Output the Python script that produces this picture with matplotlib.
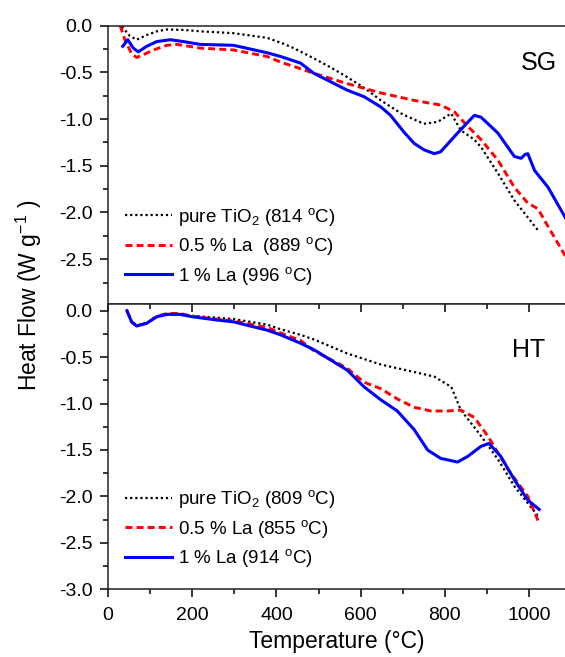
import matplotlib
matplotlib.use("Agg")
import matplotlib.pyplot as plt
from matplotlib.ticker import MultipleLocator, FuncFormatter

plt.rcParams['font.family'] = ['Liberation Sans', 'DejaVu Sans']
plt.rcParams['mathtext.fontset'] = 'custom'
plt.rcParams['mathtext.rm'] = 'Liberation Sans'
plt.rcParams['mathtext.it'] = 'Liberation Sans:italic'

# ---------------- SG panel data ----------------
sg_pure_T = [33, 52, 68, 92, 116, 140, 179, 219, 298, 378, 415, 441, 489, 530, 568, 610, 648, 700, 750, 783, 815, 838, 870, 886, 926, 965, 1021]
sg_pure_y = [-0.01, -0.11, -0.15, -0.10, -0.06, -0.04, -0.045, -0.06, -0.08, -0.13, -0.19, -0.24, -0.35, -0.45, -0.55, -0.67, -0.80, -0.95, -1.05, -1.03, -0.94, -1.12, -1.22, -1.30, -1.58, -1.87, -2.19]

sg_05_T = [29, 40, 56, 68, 84, 108, 140, 164, 219, 298, 378, 410, 457, 489, 568, 648, 727, 790, 822, 855, 886, 926, 965, 997, 1021, 1045, 1088]
sg_05_y = [0.0, -0.15, -0.30, -0.34, -0.31, -0.26, -0.21, -0.20, -0.24, -0.26, -0.33, -0.39, -0.46, -0.51, -0.62, -0.72, -0.80, -0.85, -0.92, -1.08, -1.22, -1.44, -1.73, -1.90, -1.96, -2.15, -2.48]

sg_1_T = [35, 47, 60, 72, 92, 116, 148, 179, 219, 298, 378, 410, 457, 489, 568, 608, 648, 671, 703, 727, 751, 775, 790, 830, 870, 886, 926, 965, 981, 990, 997, 1013, 1045, 1088]
sg_1_y = [-0.22, -0.15, -0.24, -0.28, -0.22, -0.17, -0.15, -0.17, -0.20, -0.21, -0.29, -0.33, -0.40, -0.51, -0.69, -0.76, -0.87, -0.96, -1.14, -1.26, -1.33, -1.37, -1.35, -1.15, -0.96, -0.98, -1.15, -1.40, -1.42, -1.38, -1.37, -1.55, -1.73, -2.07]

# ---------------- HT panel data ----------------
ht_pure_T = [45, 56, 68, 92, 116, 140, 171, 200, 258, 298, 378, 410, 457, 489, 568, 648, 727, 775, 815, 838, 886, 926, 965, 1021]
ht_pure_y = [0.0, -0.12, -0.16, -0.13, -0.06, -0.035, -0.035, -0.055, -0.075, -0.09, -0.15, -0.20, -0.26, -0.31, -0.46, -0.58, -0.66, -0.71, -0.82, -1.07, -1.35, -1.60, -1.89, -2.21]

ht_05_T = [45, 56, 68, 92, 116, 140, 171, 200, 258, 298, 378, 410, 457, 489, 568, 608, 648, 687, 727, 767, 806, 838, 870, 902, 950, 997, 1024]
ht_05_y = [0.0, -0.12, -0.165, -0.135, -0.06, -0.03, -0.03, -0.06, -0.09, -0.11, -0.18, -0.24, -0.32, -0.43, -0.62, -0.77, -0.84, -0.95, -1.04, -1.08, -1.08, -1.07, -1.15, -1.35, -1.71, -2.00, -2.29]

ht_1_T = [45, 56, 68, 92, 116, 140, 171, 200, 258, 298, 378, 410, 457, 489, 568, 608, 648, 687, 727, 759, 790, 830, 854, 886, 905, 933, 965, 997, 1024]
ht_1_y = [0.0, -0.12, -0.165, -0.135, -0.065, -0.04, -0.04, -0.065, -0.10, -0.12, -0.21, -0.26, -0.35, -0.42, -0.64, -0.82, -0.96, -1.08, -1.28, -1.50, -1.59, -1.63, -1.57, -1.46, -1.43, -1.57, -1.82, -2.04, -2.14]

sg_labels = [r'pure TiO$_2$ (814 $^{\mathrm{o}}$C)', r'0.5 % La  (889 $^{\mathrm{o}}$C)', r'1 % La (996 $^{\mathrm{o}}$C)']
ht_labels = [r'pure TiO$_2$ (809 $^{\mathrm{o}}$C)', r'0.5 % La (855 $^{\mathrm{o}}$C)', r'1 % La (914 $^{\mathrm{o}}$C)']
panel_names = ['SG', 'HT']

W, H = 565, 657
fig = plt.figure(figsize=(W / 100, H / 100), dpi=100)
left = 108 / W
width = 1.0 - left + 0.002
ax1 = fig.add_axes([left, 1 - 304 / H, width, (304 - 25.7) / H])
ax2 = fig.add_axes([left, 1 - 589.3 / H, width, (589.3 - 304) / H])

styles = [dict(color='black', lw=1.6, dashes=(1, 1.3)),
          dict(color='#ff0000', lw=2.1, dashes=(2.4, 1.4)),
          dict(color='#0000ff', lw=2.2, linestyle='-')]

TICK_FS = 14
LEG_FS = 13.5
for ax, data, labels, leg_y in [
    (ax1, [(sg_pure_T, sg_pure_y), (sg_05_T, sg_05_y), (sg_1_T, sg_1_y)], sg_labels, 0.062),
    (ax2, [(ht_pure_T, ht_pure_y), (ht_05_T, ht_05_y), (ht_1_T, ht_1_y)], ht_labels, 0.07),
]:
    for (T, y), st, lab in zip(data, styles, labels):
        ax.plot(T, y, label=lab, **st)
    ax.set_xlim(0, 1088)
    ax.spines['right'].set_visible(False)
    for s in ['left', 'top', 'bottom']:
        ax.spines[s].set_linewidth(1.1)
        ax.spines[s].set_color('#222222')
    ax.yaxis.set_major_locator(MultipleLocator(0.5))
    ax.yaxis.set_minor_locator(MultipleLocator(0.25))
    ax.xaxis.set_major_locator(MultipleLocator(200))
    ax.xaxis.set_minor_locator(MultipleLocator(100))
    ax.tick_params(axis='y', which='major', direction='out', length=6, width=1.1,
                   labelsize=TICK_FS, pad=5, right=False)
    ax.tick_params(axis='y', which='minor', direction='out', length=3.5, width=1.1, right=False)
    ax.yaxis.set_major_formatter(FuncFormatter(lambda v, p: f'{v:.1f}'.replace('-0.0', '0.0')))
    ax.legend(loc='lower left', bbox_to_anchor=(17 / 457, leg_y), frameon=False,
              fontsize=LEG_FS, handlelength=2.5, handletextpad=0.3, labelspacing=0.4,
              borderaxespad=0.0, borderpad=0.0)

ax1.set_ylim(-2.98, 0.0)
ax2.set_ylim(-3.0, 0.072)

ax1.tick_params(axis='x', which='both', bottom=False, top=False, labelbottom=False)
ax2.tick_params(axis='x', which='major', direction='out', length=6, width=1.1,
                labelsize=TICK_FS, pad=7, top=False)
ax2.tick_params(axis='x', which='minor', direction='out', length=3.5, width=1.1, top=False)
ax2t = ax2.secondary_xaxis('top')
ax2t.xaxis.set_major_locator(MultipleLocator(200))
ax2t.xaxis.set_minor_locator(MultipleLocator(100))
ax2t.tick_params(axis='x', which='major', direction='in', length=6, width=1.1, labeltop=False)
ax2t.tick_params(axis='x', which='minor', direction='in', length=3.5, width=1.1)
ax2t.spines['top'].set_visible(False)

ax1.text(1024, -0.40, panel_names[0], fontsize=18, ha='center', va='center')
ax2.text(998, -0.42, panel_names[1], fontsize=18, ha='center', va='center')

ax2.set_xlabel('Temperature (°C)', fontsize=16.5, labelpad=4)
fig.text(29 / W, 1 - 295 / H, r'Heat Flow (W g$^{-1}$ )', rotation=90, fontsize=16.5,
         ha='center', va='center')

fig.savefig('out.png', dpi=100)
